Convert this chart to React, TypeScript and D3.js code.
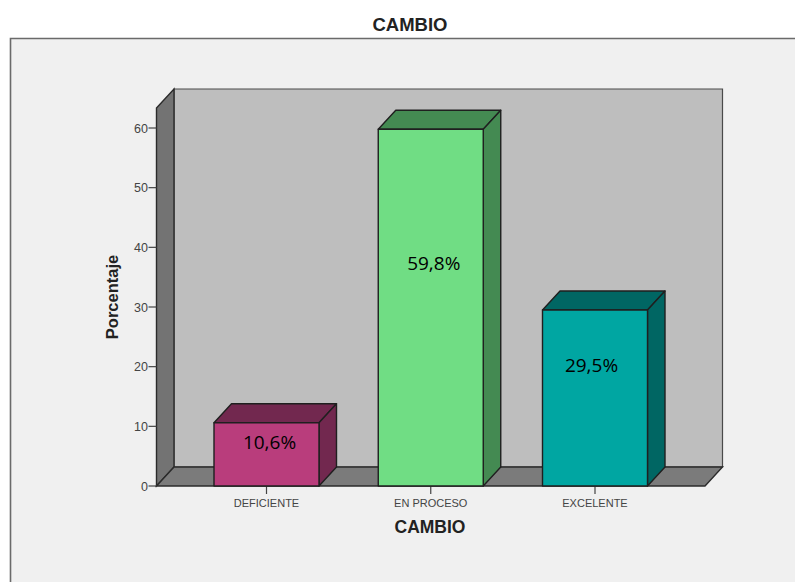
import React from "react";
import * as d3 from "d3";

const categories = ["DEFICIENTE", "EN PROCESO", "EXCELENTE"];
const percentages = [10.6, 59.8, 29.5];
const valueLabels = ["10,6%", "59,8%", "29,5%"];
const labelLevels = [7.0, 37.1, 19.9];
const labelShifts = [3, 3, -3.5];
const yTicks = [0, 10, 20, 30, 40, 50, 60];
const frontColors = ["#b93d7c", "#70dd84", "#00a6a2"];
const darkColors = ["#72284f", "#448a52", "#006663"];

const width = 795;
const height = 582;
const depthX = 17.5;
const depthY = 19;
const line = "#2b2b2b";

const y = d3.scaleLinear().domain([0, 60]).range([486, 128]);
const x = d3.scalePoint<string>().domain(categories).range([266.5, 595]);
const barWidth = 105;

const plotLeft = 156.5;
const plotRight = 705;
const plotTop = 108;
const plotBottom = y(0);

const poly = (pts: [number, number][]) => {
  const path = d3.path();
  pts.forEach(([px, py], i) => (i ? path.lineTo(px, py) : path.moveTo(px, py)));
  path.closePath();
  return path.toString();
};

export default function App() {
  return (
    <svg
      width={width}
      height={height}
      viewBox={`0 0 ${width} ${height}`}
      style={{ position: "absolute", left: 0, top: 0, background: "#ffffff" }}
      fontFamily="'Liberation Sans', Arial, sans-serif"
    >
      {/* Outer chart frame, open at the right and bottom */}
      <rect x={10} y={38} width={790} height={550} fill="#f0f0f0" />
      <path d="M10.5,582V38.5H795" fill="none" stroke="#6a6a6a" strokeWidth={1.6} />
      <text x={410} y={31} textAnchor="middle" fontSize={18.5} fontWeight="bold" fill="#222">
        CAMBIO
      </text>

      {/* Back wall, side wall and floor of the 3D box */}
      <path
        d={poly([
          [plotLeft + depthX, plotTop - depthY],
          [plotRight + depthX, plotTop - depthY],
          [plotRight + depthX, plotBottom - depthY],
          [plotLeft + depthX, plotBottom - depthY],
        ])}
        fill="#bebebe"
        stroke="#4a4a4a"
        strokeWidth={1.2}
      />
      <path
        d={poly([
          [plotLeft, plotTop],
          [plotLeft + depthX, plotTop - depthY],
          [plotLeft + depthX, plotBottom - depthY],
          [plotLeft, plotBottom],
        ])}
        fill="#737373"
        stroke={line}
        strokeWidth={1.4}
      />
      <path
        d={poly([
          [plotLeft, plotBottom],
          [plotLeft + depthX, plotBottom - depthY],
          [plotRight + depthX, plotBottom - depthY],
          [plotRight, plotBottom],
        ])}
        fill="#7b7b7b"
        stroke={line}
        strokeWidth={1.4}
      />

      {/* Value axis */}
      {yTicks.map((t) => (
        <g key={t}>
          <line x1={plotLeft - 8} x2={plotLeft} y1={y(t)} y2={y(t)} stroke="#444" strokeWidth={1.2} />
          <text x={plotLeft - 8.5} y={y(t) + 4.5} textAnchor="end" fontSize={12.5} fill="#444">
            {t}
          </text>
        </g>
      ))}
      <text
        transform={`translate(118,297) rotate(-90)`}
        textAnchor="middle"
        fontSize={16.5}
        fontWeight="bold"
        fill="#222"
      >
        Porcentaje
      </text>

      {/* Category axis */}
      {categories.map((c) => (
        <g key={c}>
          <line x1={x(c)} x2={x(c)} y1={plotBottom} y2={plotBottom + 8} stroke="#444" strokeWidth={1.2} />
          <text x={x(c)} y={507} textAnchor="middle" fontSize={11} fill="#444">
            {c}
          </text>
        </g>
      ))}
      <text x={430} y={533} textAnchor="middle" fontSize={17.5} fontWeight="bold" fill="#222">
        CAMBIO
      </text>

      {/* Extruded bars with their value labels */}
      {categories.map((c, i) => {
        const l = (x(c) as number) - barWidth / 2;
        const r = l + barWidth;
        const t = y(percentages[i]);
        const b = y(0);
        return (
          <g key={c} stroke="#1f1f1f" strokeWidth={1.4} strokeLinejoin="round">
            <path
              d={poly([
                [l, t],
                [l + depthX, t - depthY],
                [r + depthX, t - depthY],
                [r, t],
              ])}
              fill={darkColors[i]}
            />
            <path
              d={poly([
                [r, t],
                [r + depthX, t - depthY],
                [r + depthX, b - depthY],
                [r, b],
              ])}
              fill={darkColors[i]}
            />
            <rect x={l} y={t} width={barWidth} height={b - t} fill={frontColors[i]} />
            <text
              x={(x(c) as number) + labelShifts[i]}
              y={y(labelLevels[i])}
              textAnchor="middle"
              dominantBaseline="middle"
              fontFamily="'Open Sans', 'Noto Sans', sans-serif"
              fontSize={19}
              fill="#000"
              stroke="none"
            >
              {valueLabels[i]}
            </text>
          </g>
        );
      })}
    </svg>
  );
}
